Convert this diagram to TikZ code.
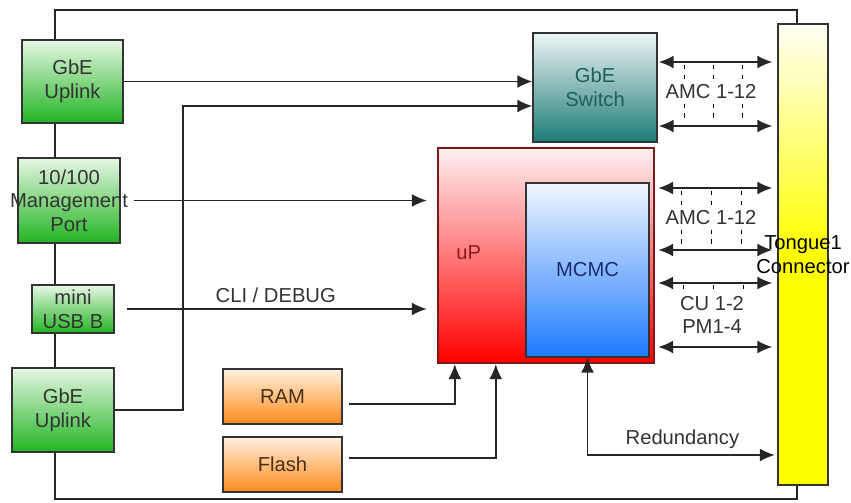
\documentclass[tikz,border=0pt]{standalone}
\usepackage{fontspec}
\setmainfont{Liberation Sans}
\usetikzlibrary{arrows.meta}
\definecolor{gtop}{HTML}{E6F7E4}\definecolor{gbot}{HTML}{22B422}
\definecolor{ttop}{HTML}{EEF6F6}\definecolor{tbot}{HTML}{1B7B77}\definecolor{ttxt}{HTML}{1F5F5C}
\definecolor{rtop}{HTML}{FFF0F0}\definecolor{rbot}{HTML}{FF0000}\definecolor{rbrd}{HTML}{7A1A1A}\definecolor{rtxt}{HTML}{8B1A1A}
\definecolor{btop}{HTML}{F0F6FF}\definecolor{bbot}{HTML}{1E7BFF}\definecolor{btxt}{HTML}{1E2A6E}
\definecolor{otop}{HTML}{FFF0E0}\definecolor{obot}{HTML}{FF8C1A}\definecolor{otxt}{HTML}{4A2E1A}
\definecolor{ytop}{HTML}{FFFFF5}\definecolor{ybot}{HTML}{FFFF00}
\begin{document}
\begin{tikzpicture}[x=0.02cm,y=-0.02cm,font=\fontsize{11.5}{13.5}\selectfont,
	box/.style={draw=black!80,line width=0.8pt,align=center,inner sep=0pt},
	gbox/.style={box,top color=gtop,bottom color=gbot,text=black!80},
	obox/.style={box,top color=otop,bottom color=obot,text=otxt,minimum width=2.38cm,minimum height=1.1cm},
	arr/.style={-{Latex[length=3mm,width=2.6mm]},line width=0.9pt,draw=black!85},
	dbl/.style={{Latex[length=3mm,width=2.6mm]}-{Latex[length=3mm,width=2.6mm]},line width=0.9pt,draw=black!85},
	lane/.style={dash pattern=on 2.5pt off 3pt,line width=0.5pt},
	lbl/.style={fill=white,inner sep=1pt,text=black!80}]
	\useasboundingbox (0,0) rectangle (851,503);
	\draw[line width=0.8pt,black!85] (55,10) rectangle (797,499);
	
	\node[gbox,minimum width=2.02cm,minimum height=1.66cm] (up1) at (72.5,81.5) {GbE\\Uplink};
	\node[gbox,minimum width=2.04cm,minimum height=1.70cm] (mgmt) at (69,200.5) {10/100\\\makebox[0pt]{Management}\\Port};
	\node[gbox,minimum width=1.64cm,minimum height=0.96cm] (usb) at (73,309) {mini\\USB B};
	\node[gbox,minimum width=2.04cm,minimum height=1.68cm] (up2) at (63,410) {GbE\\Uplink};
	\node[obox] (ram) at (282.5,396.5) {RAM};
	\node[obox] (flash) at (282.5,464.5) {Flash};
	\node[box,top color=ttop,bottom color=tbot,text=ttxt,minimum width=2.48cm,minimum height=2.18cm] (sw) at (595,87.5) {GbE\\Switch};
	\node[box,draw=rbrd,line width=1.4pt,top color=rtop,bottom color=rbot,minimum width=4.32cm,minimum height=4.3cm] (uP) at (546,255.5) {};
	\node[text=rtxt] (uPlbl) at ([xshift=0.64cm,yshift=0.05cm]uP.west) {uP};
	\node[box,top color=btop,bottom color=bbot,text=btxt,minimum width=2.46cm,minimum height=3.48cm] (mcmc) at (587.5,270) {MCMC};
	\node[box,top color=ytop,bottom color=ybot,middle color=ybot,minimum width=1cm,minimum height=9.22cm] (conn) at (803,254.5) {\makebox[0pt]{Tongue1}\\\makebox[0pt]{Connector}};
	
	\draw[arr] (up1.east) -- (up1.east -| sw.west);
	\coordinate (bend) at (183,106);
	\draw[arr] (up2.east) -| (bend) -- (bend -| sw.west);
	\draw[arr,shorten <=0.26cm,shorten >=0.2cm] (mgmt.east) -- (mgmt.east -| uP.west);
	\draw[arr,shorten <=0.24cm,shorten >=0.2cm] (usb.east) -- (usb.east -| uP.west) node[midway,above,text=black!80] (cli) {CLI / DEBUG};
	\draw[arr,shorten <=0.12cm] ([yshift=-0.15cm]ram.east) -| ([xshift=0.36cm]uP.south west);
	\draw[arr,shorten <=0.12cm] ([yshift=0.13cm]flash.east) -| ([xshift=1.18cm]uP.south west);
	\foreach \y in {62,126}
	\draw[dbl,shorten >=0.1cm,shorten <=0.02cm] (sw.east |- 0,\y) -- (conn.west |- 0,\y);
	\foreach \y in {188,250,283,347}
	\draw[dbl,shorten >=0.1cm,shorten <=0.06cm] (uP.east |- 0,\y) -- (conn.west |- 0,\y);
	\draw[dbl,shorten >=0.05cm] (mcmc.south) |- (conn.west |- 0,455) node[pos=0.75,above,text=black!80] (red) {Redundancy};
	
	\foreach \x/\ya/\yb in {684/65/122,713/65/122,742/65/122,681/191/247,711/191/247,741/191/247,683/285/291,713/285/291,743/285/291}
	\draw[lane] (\x,\ya) -- (\x,\yb);
	\node[lbl] (amc1) at (711,92) {AMC 1-12};
	\node[lbl] (amc2) at (711,218) {AMC 1-12};
	\node[text=black!80,align=center] (cupm) at (712,315) {CU 1-2\\PM1-4};
\end{tikzpicture}
\end{document}
